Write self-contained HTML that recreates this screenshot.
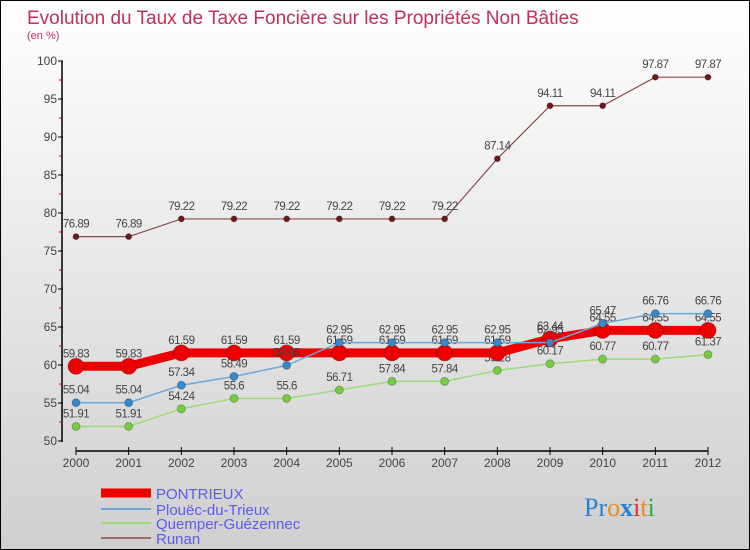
<!DOCTYPE html>
<html><head><meta charset="utf-8"><style>
body{margin:0}
#c{width:748px;height:548px;border:1px solid #000;background:linear-gradient(#fff,#cfcfcf);position:relative;font-family:"Liberation Sans",sans-serif;overflow:hidden}
</style></head><body>
<div id="c">
<svg id="s" width="748" height="548" xmlns="http://www.w3.org/2000/svg">
<text x="26" y="23" font-size="19" fill="#c0305a">Evolution du Taux de Taxe Foncière sur les Propriétés Non Bâties</text>
<text x="26" y="38" font-size="11" fill="#c0305a">(en %)</text>
<g id="axes"></g><g id="series"></g>
<g>
<line x1="100" y1="492" x2="150" y2="492" stroke="#e00" stroke-width="9"/>
<text x="155" y="498" font-size="15" fill="#5b5bf0">PONTRIEUX</text>
<line x1="100" y1="508" x2="150" y2="508" stroke="#6fa8d6" stroke-width="2"/>
<text x="155" y="514" font-size="15" fill="#5b5bf0">Plouëc-du-Trieux</text>
<line x1="100" y1="522" x2="150" y2="522" stroke="#99dd77" stroke-width="2"/>
<text x="155" y="528" font-size="15" fill="#5b5bf0">Quemper-Guézennec</text>
<line x1="100" y1="537" x2="150" y2="537" stroke="#9a6b6b" stroke-width="2"/>
<text x="155" y="543" font-size="15" fill="#5b5bf0">Runan</text>
</g>
<text x="583" y="515" font-size="26" font-family="Liberation Serif,serif"><tspan fill="#2a7fd0">Pr</tspan><tspan fill="#f08a1a">o</tspan><tspan fill="#2a7fd0" font-weight="bold">x</tspan><tspan fill="#e03030">i</tspan><tspan fill="#f08a1a">t</tspan><tspan fill="#33aa44">i</tspan></text>
</svg></div>
<script>
const years=[2000,2001,2002,2003,2004,2005,2006,2007,2008,2009,2010,2011,2012];
const pontrieux=[59.83,59.83,61.59,61.59,61.59,61.59,61.59,61.59,61.59,63.44,64.55,64.55,64.55];
const plouec=[55.04,55.04,57.34,58.49,59.95,62.95,62.95,62.95,62.95,62.95,65.47,66.76,66.76];
const quemper=[51.91,51.91,54.24,55.6,55.6,56.71,57.84,57.84,59.28,60.17,60.77,60.77,61.37];
const runan=[76.89,76.89,79.22,79.22,79.22,79.22,79.22,79.22,87.14,94.11,94.11,97.87,97.87];
const yTicks=[50,55,60,65,70,75,80,85,90,95,100];
const NS="http://www.w3.org/2000/svg";
const X=i=>75+i*(707-75)/(years.length-1);
const Y=v=>440-(v-50)*7.6;
function mk(t,a,p){const e=document.createElementNS(NS,t);for(const k in a)e.setAttribute(k,a[k]);p.appendChild(e);return e;}
const ax=document.getElementById('axes');
let l=mk('line',{x1:61,y1:60,x2:61,y2:441,stroke:'#000','stroke-width':1.5},ax);


yTicks.forEach(v=>{
 mk('line',{x1:57,y1:Y(v),x2:62,y2:Y(v),stroke:'#000'},ax);
 if(v<100){const h=mk('line',{x1:58,y1:Y(v+2.5),x2:61,y2:Y(v+2.5),stroke:'#d00'},ax);}
 const t=mk('text',{x:56,y:Y(v)+4,'font-size':12,fill:'#444','text-anchor':'end'},ax);t.textContent=v;
 
 
});
l=mk('line',{x1:75,y1:450,x2:707,y2:450,stroke:'#000','stroke-width':1.5},ax);


years.forEach((y,i)=>{
 mk('line',{x1:X(i),y1:446,x2:X(i),y2:454,stroke:'#000'},ax);
 const t=mk('text',{x:X(i),y:466,'font-size':12,fill:'#444','text-anchor':'middle'},ax);t.textContent=y;
 
 
});
const sg=document.getElementById('series');
function draw(name,data,color,w,r,fill){
 const g=mk('g',{},sg);
 
 
 const p=mk('polyline',{points:data.map((v,i)=>X(i)+','+Y(v)).join(' '),fill:'none',stroke:color,'stroke-width':w},g);
 data.forEach((v,i)=>{
  const c=mk('circle',{cx:X(i),cy:Y(v),r:r,fill:fill,stroke:'rgba(0,0,0,0.25)'},g);
  
  
  const t=mk('text',{x:X(i),y:Y(v)-9,'font-size':11.5,fill:'#444','text-anchor':'middle','letter-spacing':'-0.5'},g);
  t.textContent=v;
  
  
 });
}
draw('runan',runan,'#8b4a4a',1.2,3,'#6b1a1a');
draw('quemper',quemper,'#99dd77',1.5,4,'#77cc44');
draw('pontrieux',pontrieux,'#ee0000',9,8,'#ee0000');
draw('plouec',plouec,'#6fa8d6',1.5,4,'#3a88c8');
</script>
</body></html>
